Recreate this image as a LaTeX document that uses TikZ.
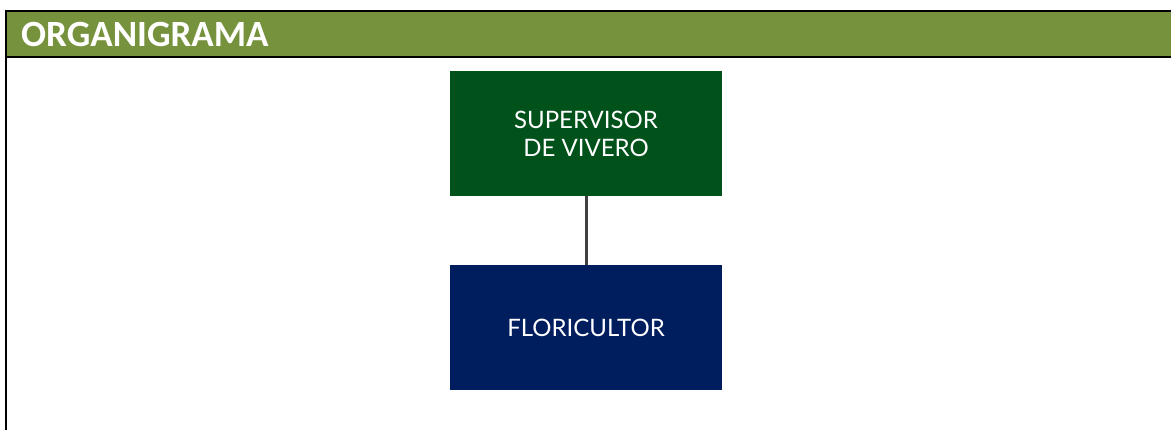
\documentclass[tikz,border=0pt]{standalone}
\usepackage{fontspec}
\newfontfamily\hdrfont{Carlito}
\newfontfamily\boxfont{Lato}
\definecolor{hdrgreen}{HTML}{76923C}
\definecolor{boxgreen}{HTML}{00511A}
\definecolor{boxnavy}{HTML}{001E5E}
\definecolor{linegray}{HTML}{404040}
\begin{document}
\begin{tikzpicture}[x=1pt,y=1pt,
  orgbox/.style={minimum width=272pt,minimum height=125pt,inner sep=0pt,text=white,align=center,font=\boxfont\fontsize{24}{28}\selectfont}]
\useasboundingbox (0,0) rectangle (1171,430);
\fill[white] (0,0) rectangle (1171,430);
% header
\fill[hdrgreen] (6,373) rectangle (1171,419);
\draw[line width=2pt] (6,430-11) -- (1171,430-11);
\draw[line width=2pt] (6,430-57) -- (1171,430-57);
\draw[line width=2pt] (6,0) -- (6,420);
\node[anchor=west,text=white,font=\hdrfont\bfseries\fontsize{37}{40}\selectfont,inner sep=0pt] (title) at (21,430-35) {ORGANIGRAMA};
% boxes
\node[orgbox,fill=boxgreen] (sup) at (586,430-133.5) {SUPERVISOR\\DE VIVERO};
\node[orgbox,fill=boxnavy] (flo) at (586,430-328) {FLORICULTOR};
\draw[linegray,line width=3pt] (sup.south) -- (flo.north);
\end{tikzpicture}
\end{document}
